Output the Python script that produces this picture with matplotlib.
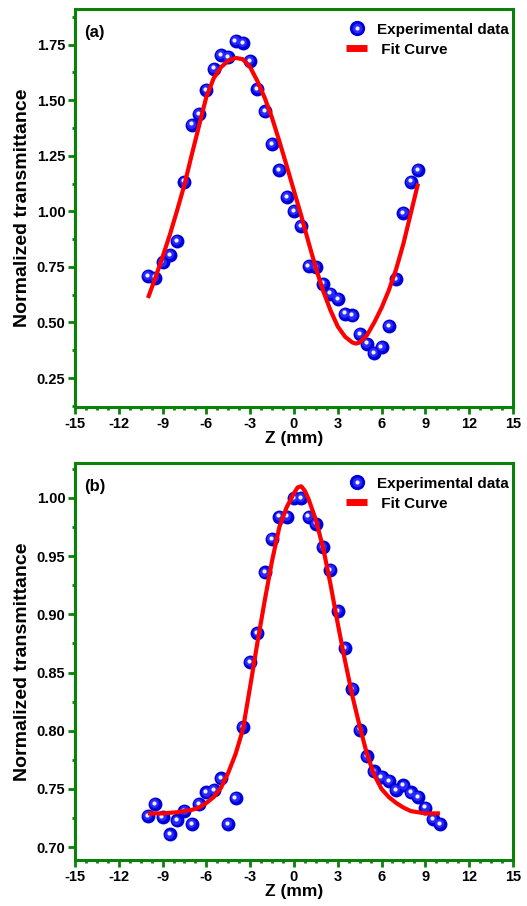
import matplotlib
matplotlib.use("Agg")
import matplotlib.pyplot as plt
import matplotlib.ticker as mticker
from matplotlib.lines import Line2D
from matplotlib.legend_handler import HandlerTuple
from matplotlib.transforms import offset_copy

plt.rcParams['font.family'] = ['Liberation Sans', 'DejaVu Sans']
plt.rcParams['font.weight'] = 'bold'

# panel (a) experimental points
z_a = [-10, -9.5, -9, -8.5, -8, -7.5, -7, -6.5, -6, -5.5, -5, -4.5, -4, -3.5,
       -3, -2.5, -2, -1.5, -1, -0.5, 0, 0.5, 1, 1.5, 2, 2.5, 3, 3.5, 4, 4.5,
       5, 5.5, 6, 6.5, 7, 7.5, 8, 8.5]
t_a = [0.708, 0.702, 0.770, 0.803, 0.868, 1.134, 1.390, 1.437, 1.547, 1.642,
       1.702, 1.694, 1.765, 1.757, 1.675, 1.550, 1.449, 1.303, 1.186, 1.066,
       1.003, 0.935, 0.755, 0.750, 0.675, 0.630, 0.605, 0.540, 0.532, 0.447,
       0.405, 0.363, 0.390, 0.484, 0.695, 0.994, 1.134, 1.186]

# panel (a) fit curve
fit_z_a = [-10.0, -9.5, -9.0, -8.5, -8.0, -7.5, -7.0, -6.5, -6.0, -5.5, -5.0,
           -4.5, -4.0, -3.5, -3.0, -2.5, -2.0, -1.5, -1.0, -0.5, 0.0, 0.5,
           1.0, 1.5, 2.0, 2.5, 3.0, 3.5, 4.0, 4.25, 4.5, 5.0, 5.5, 6.0, 6.5,
           7.0, 7.5, 8.0, 8.5]
fit_t_a = [0.610, 0.700, 0.795, 0.895, 1.005, 1.120, 1.255, 1.385, 1.515,
           1.598, 1.648, 1.677, 1.690, 1.684, 1.648, 1.585, 1.510, 1.420,
           1.315, 1.205, 1.092, 0.980, 0.860, 0.745, 0.642, 0.555, 0.482,
           0.436, 0.410, 0.405, 0.410, 0.443, 0.500, 0.566, 0.645, 0.740,
           0.855, 0.990, 1.125]

# panel (b) experimental points
z_b = [-10, -9.5, -9, -8.5, -8, -7.5, -7, -6.5, -6, -5.5, -5, -4.5, -4, -3.5,
       -3, -2.5, -2, -1.5, -1, -0.5, 0, 0.5, 1, 1.5, 2, 2.5, 3, 3.5, 4, 4.5,
       5, 5.5, 6, 6.5, 7, 7.5, 8, 8.5, 9, 9.5, 10]
t_b = [0.727, 0.737, 0.726, 0.711, 0.723, 0.731, 0.720, 0.737, 0.747, 0.749,
       0.759, 0.720, 0.742, 0.803, 0.859, 0.884, 0.936, 0.965, 0.984, 0.984,
       1.000, 1.000, 0.984, 0.978, 0.958, 0.938, 0.903, 0.871, 0.836, 0.801,
       0.778, 0.765, 0.760, 0.757, 0.749, 0.753, 0.747, 0.743, 0.734, 0.724,
       0.720]

# panel (b) fit curve
fit_z_b = [-10.0, -9.0, -8.0, -7.5, -7.0, -6.5, -6.0, -5.5, -5.0, -4.5, -4.0,
           -3.5, -3.0, -2.5, -2.0, -1.5, -1.0, -0.5, 0.0, 0.25, 0.5, 0.75,
           1.0, 1.5, 2.0, 2.5, 3.0, 3.5, 4.0, 4.5, 5.0, 5.5, 6.0, 6.5, 7.0,
           7.5, 8.0, 9.0, 10.0]
fit_t_b = [0.729, 0.729, 0.730, 0.731, 0.732, 0.734, 0.738, 0.743, 0.751,
           0.764, 0.780, 0.801, 0.838, 0.876, 0.912, 0.946, 0.975, 0.992,
           1.004, 1.009, 1.010, 1.006, 0.999, 0.981, 0.957, 0.926, 0.892,
           0.860, 0.830, 0.804, 0.780, 0.762, 0.750, 0.743, 0.738, 0.734,
           0.731, 0.729, 0.729]

x_ticks = [-15, -12, -9, -6, -3, 0, 3, 6, 9, 12, 15]
green = '#0a820a'


def sphere(ax, z, t):
    # shaded blue balls: dark rim, lighter body, white highlight
    ax.plot(z, t, 'o', ms=10, color='#0000d8', mec='none', zorder=3)
    tr = offset_copy(ax.transData, fig=ax.figure, x=-0.6, y=0.6, units='points')
    ax.plot(z, t, 'o', ms=6.5, color='#2a2aff', mec='none', zorder=4, transform=tr)
    tr2 = offset_copy(ax.transData, fig=ax.figure, x=-0.8, y=0.8, units='points')
    ax.plot(z, t, 'o', ms=3, color='#f0f0ff', mec='none', zorder=5, transform=tr2)


def panel(ax, z, t, fz, ft, ylim, yticks, tag):
    sphere(ax, z, t)
    ax.plot(fz, ft, color='#ff0000', lw=3, zorder=6, solid_capstyle='butt',
            solid_joinstyle='round')

    ax.set_xlim(-15, 15)
    ax.set_ylim(*ylim)
    ax.set_xticks(x_ticks)
    ax.set_xticklabels([str(v) for v in x_ticks])
    ax.set_yticks(yticks)
    ax.yaxis.set_major_formatter(mticker.FormatStrFormatter('%.2f'))
    ax.xaxis.set_minor_locator(mticker.AutoMinorLocator(4))
    ax.yaxis.set_minor_locator(mticker.AutoMinorLocator(2))

    for s in ax.spines.values():
        s.set_color(green)
        s.set_linewidth(2.2)
    ax.tick_params(which='both', direction='out', color=green, width=2,
                   top=False, right=False, labelsize=10.5)
    ax.tick_params(which='major', length=5, pad=2)
    ax.tick_params(which='minor', length=2.5)
    for lab in ax.get_xticklabels() + ax.get_yticklabels():
        lab.set_fontweight('bold')

    ax.set_xlabel('Z (mm)', fontsize=12.5, fontweight='bold', labelpad=0)
    ax.set_ylabel('Normalized transmittance', fontsize=14, fontweight='bold', labelpad=4)
    ax.text(0.02, 0.96, tag, transform=ax.transAxes, fontsize=12,
            fontweight='bold', va='top', ha='left')

    ball = (Line2D([], [], marker='o', ls='none', ms=11, color='#0000d8', mec='none'),
            Line2D([], [], marker='o', ls='none', ms=7, color='#2a2aff', mec='none'),
            Line2D([], [], marker='o', ls='none', ms=3, color='#f0f0ff', mec='none'))
    line = Line2D([], [], color='#ff0000', lw=5, solid_capstyle='butt')
    ax.legend([ball, line], ['Experimental data', ' Fit Curve'],
              handler_map={tuple: HandlerTuple(ndivide=1)},
              loc='upper right', bbox_to_anchor=(1.0, 0.977), frameon=False,
              prop={'weight': 'bold', 'size': 11},
              handlelength=1.4, handletextpad=0.6, labelspacing=0.4,
              borderaxespad=0.1, borderpad=0.2)


fig = plt.figure(figsize=(5.27, 9.06), dpi=100)
ax1 = fig.add_axes([0.1423, 0.5508, 0.831, 0.4393])
ax2 = fig.add_axes([0.1423, 0.0508, 0.831, 0.4382])

panel(ax1, z_a, t_a, fit_z_a, fit_t_a, (0.12, 1.91),
      [0.25, 0.50, 0.75, 1.00, 1.25, 1.50, 1.75], '(a)')
panel(ax2, z_b, t_b, fit_z_b, fit_t_b, (0.689, 1.030),
      [0.70, 0.75, 0.80, 0.85, 0.90, 0.95, 1.00], '(b)')

fig.savefig('out.png', dpi=100)
